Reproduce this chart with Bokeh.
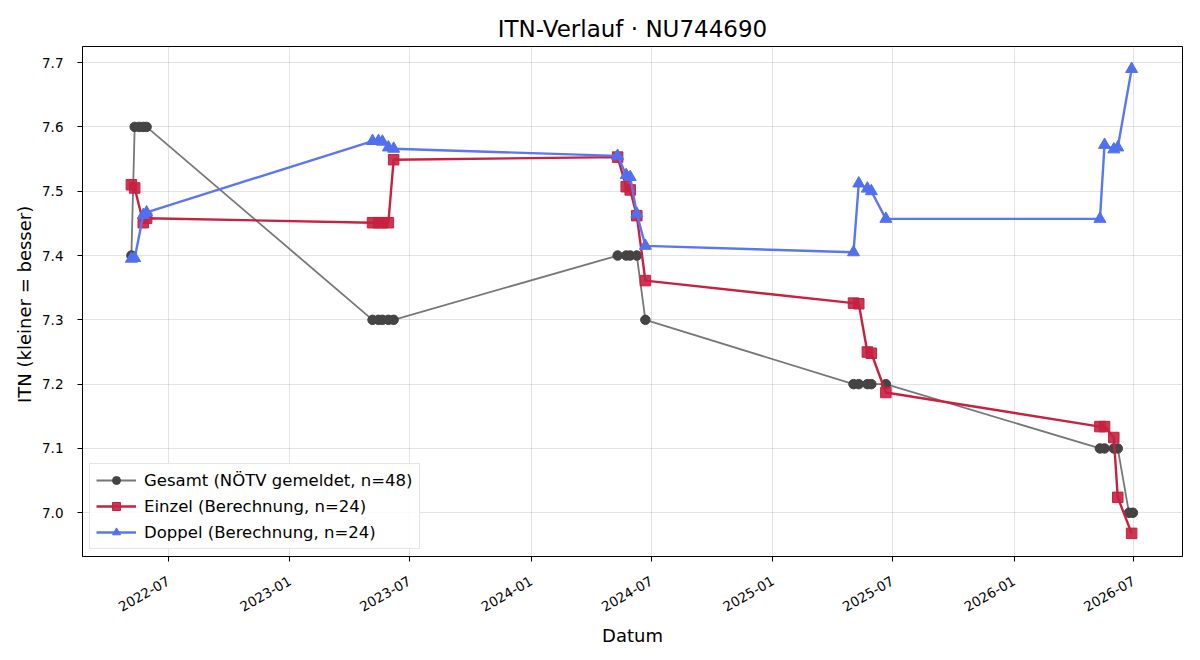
import numpy as np
import pandas as pd
from bokeh.plotting import figure
from bokeh.models import (Range1d, DatetimeTickFormatter, MonthsTicker,
                          SingleIntervalTicker, NumeralTickFormatter)
from bokeh.embed import file_html
from bokeh.resources import INLINE

FONT = "DejaVu Sans"

# Reported overall ITN (NÖTV), one value per reporting date
gesamt_dates = [
    "2022-05-06", "2022-05-11", "2022-05-18", "2022-05-24", "2022-05-29",
    "2023-05-06", "2023-05-15", "2023-05-21", "2023-05-30", "2023-06-07",
    "2024-05-11", "2024-05-24", "2024-05-30", "2024-06-09", "2024-06-22",
    "2025-05-03", "2025-05-11", "2025-05-24", "2025-05-30", "2025-06-21",
    "2026-05-11", "2026-05-18", "2026-06-01", "2026-06-07", "2026-06-24", "2026-06-30",
]
gesamt_itn = [
    7.40, 7.60, 7.60, 7.60, 7.60,
    7.30, 7.30, 7.30, 7.30, 7.30,
    7.40, 7.40, 7.40, 7.40, 7.30,
    7.20, 7.20, 7.20, 7.20, 7.20,
    7.10, 7.10, 7.10, 7.10, 7.00, 7.00,
]

# Calculated singles / doubles ITN
calc_dates = [
    "2022-05-06", "2022-05-11", "2022-05-24", "2022-05-29",
    "2023-05-06", "2023-05-15", "2023-05-21", "2023-05-30", "2023-06-07",
    "2024-05-11", "2024-05-24", "2024-05-30", "2024-06-09", "2024-06-22",
    "2025-05-03", "2025-05-11", "2025-05-24", "2025-05-30", "2025-06-21",
    "2026-05-11", "2026-05-18", "2026-06-01", "2026-06-07", "2026-06-28",
]
einzel_itn = [
    7.510, 7.505, 7.451, 7.458,
    7.451, 7.451, 7.451, 7.451, 7.549,
    7.553, 7.507, 7.502, 7.462, 7.361,
    7.326, 7.325, 7.250, 7.248, 7.187,
    7.134, 7.134, 7.117, 7.024, 6.968,
]
doppel_itn = [
    7.395, 7.396, 7.463, 7.467,
    7.578, 7.578, 7.577, 7.568, 7.566,
    7.555, 7.525, 7.522, 7.465, 7.415,
    7.405, 7.512, 7.504, 7.500, 7.457,
    7.457, 7.572, 7.565, 7.568, 7.690,
]

g_x = pd.to_datetime(gesamt_dates)
c_x = pd.to_datetime(calc_dates)

p = figure(
    width=1200, height=660,
    x_axis_type="datetime",
    x_range=Range1d(pd.Timestamp("2022-02-21"), pd.Timestamp("2026-09-13")),
    y_range=Range1d(6.932, 7.725),
    output_backend="svg", toolbar_location=None,
    title="ITN-Verlauf · NU744690",
    min_border_left=82, min_border_right=18,
    min_border_top=46, min_border_bottom=104,
)

p.title.align = "center"
p.title.text_font = FONT
p.title.text_font_size = "23px"
p.title.text_font_style = "normal"
p.title.text_color = "#000000"
p.title.offset = 0

p.outline_line_color = "#000000"
p.outline_line_width = 1
p.background_fill_color = "white"
p.border_fill_color = "white"

p.xaxis.ticker = MonthsTicker(months=[0, 6])
p.xaxis.formatter = DatetimeTickFormatter(months="%Y-%m", days="%Y-%m", years="%Y-%m")
p.xaxis.major_label_orientation = np.pi / 6
p.yaxis.ticker = SingleIntervalTicker(interval=0.1)
p.yaxis.formatter = NumeralTickFormatter(format="0.0")

for ax in (p.xaxis, p.yaxis):
    ax.axis_line_color = "#000000"
    ax.major_tick_line_color = "#000000"
    ax.major_tick_in = 0
    ax.major_tick_out = 5
    ax.minor_tick_line_color = None
    ax.major_label_text_font = FONT
    ax.major_label_text_font_size = "13.5px"
    ax.major_label_text_color = "#000000"
    ax.axis_label_text_font = FONT
    ax.axis_label_text_font_size = "18px"
    ax.axis_label_text_font_style = "normal"
    ax.axis_label_text_color = "#000000"

p.yaxis.major_label_standoff = 14
p.xaxis.major_label_standoff = 18
p.yaxis.axis_label_standoff = 4
p.xaxis.axis_label_standoff = 6

p.xaxis.axis_label = "Datum"
p.yaxis.axis_label = "ITN  (kleiner = besser)"

p.grid.grid_line_color = "#b0b0b0"
p.grid.grid_line_alpha = 0.35

# Overall ITN
lab_g = "Gesamt (NÖTV gemeldet, n=48)"
p.line(g_x, gesamt_itn, line_color="#777777", line_width=1.8, legend_label=lab_g)
p.scatter(g_x, gesamt_itn, marker="circle", size=9.5, fill_color="#444444",
          line_color="#444444", legend_label=lab_g)

# Singles
lab_e = "Einzel (Berechnung, n=24)"
p.line(c_x, einzel_itn, line_color="#c8203f", line_width=2.4, legend_label=lab_e)
p.scatter(c_x, einzel_itn, marker="square", size=10.5, fill_color="#c8203f",
          line_color="#c8203f", fill_alpha=0.9, legend_label=lab_e)

# Doubles
lab_d = "Doppel (Berechnung, n=24)"
p.line(c_x, doppel_itn, line_color="#5a76f2", line_width=2.4, legend_label=lab_d)
p.scatter(c_x, doppel_itn, marker="triangle", size=12, fill_color="#5070f0",
          line_color="#5070f0", legend_label=lab_d)

lg = p.legend[0]
lg.location = "bottom_left"
lg.margin = 7
lg.padding = 6
lg.spacing = 6
lg.glyph_width = 40
lg.glyph_height = 20
lg.label_height = 20
lg.label_text_font = FONT
lg.label_text_font_size = "16.5px"
lg.label_text_color = "#000000"
lg.border_line_color = "#cccccc"
lg.border_line_width = 1
lg.background_fill_alpha = 0.85
lg.label_standoff = 8

open("out.html", "w").write(file_html(p, INLINE))
